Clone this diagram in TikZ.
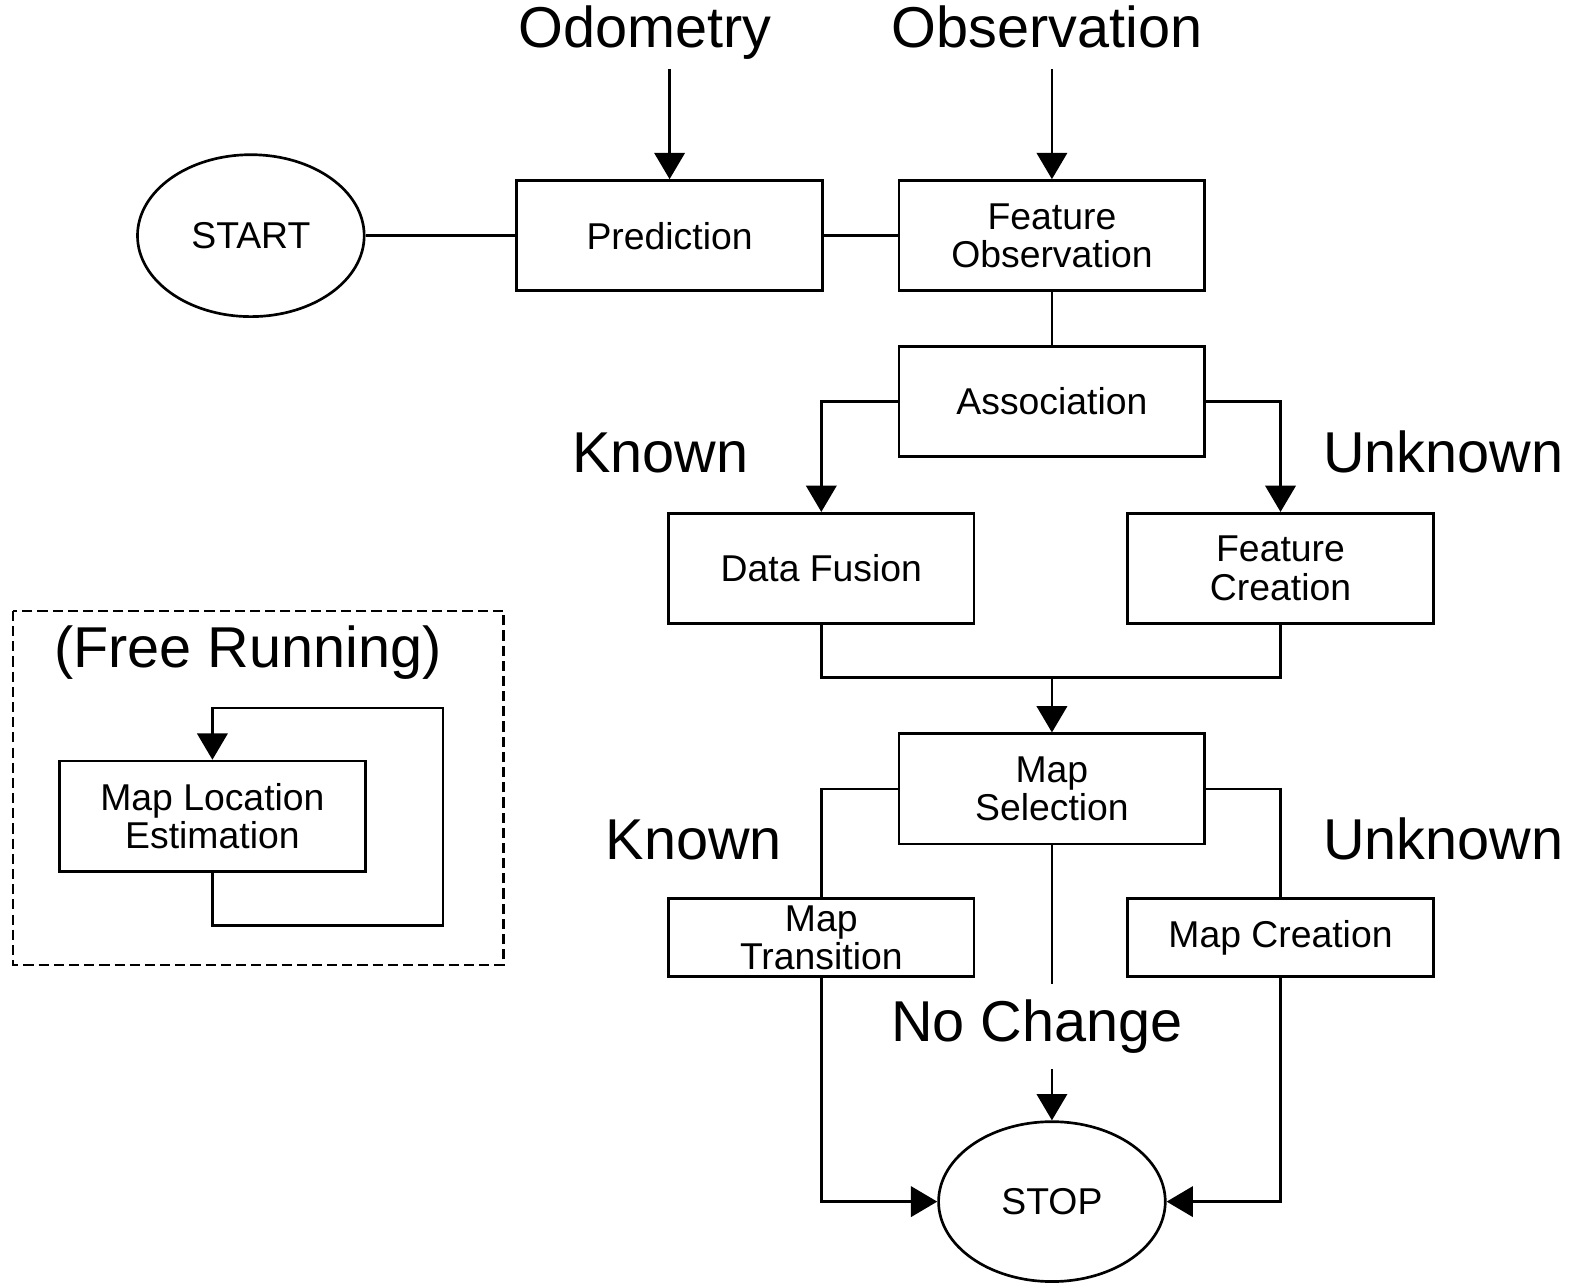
\documentclass[tikz,border=0pt]{standalone}
\usepackage{fontspec}
\setmainfont{Liberation Sans}
\usetikzlibrary{arrows.meta,shapes.geometric}

\newcommand{\boxfont}{\fontsize{10.5}{10.8}\selectfont}
\newcommand{\tagfont}{\fontsize{16.2}{18}\selectfont}

\begin{document}
\begin{tikzpicture}[x=0.01cm,y=-0.01cm,line width=0.75pt,
    box/.style={draw,rectangle,minimum width=3.02cm,minimum height=1.09cm,inner sep=1pt,align=center,font=\boxfont},
    terminal/.style={draw,ellipse,minimum width=2.24cm,minimum height=1.6cm,inner sep=0pt,font=\boxfont},
    tag/.style={anchor=base,inner sep=0pt,font=\tagfont},
    arr/.style={-{Triangle[length=0.26cm,width=0.3cm]}}]
  \useasboundingbox (0,0) rectangle (1568,1271);

  % inputs
  \node[tag] (odo) at (638,47) {Odometry};
  \node[tag] (obs) at (1035,47) {Observation};
  \coordinate (odo in) at (662,68);
  \coordinate (obs in) at (1040,68);

  % main chain
  \node[terminal] (start) at (248,233) {START};
  \node[box] (pred) at (662,233) {Prediction};
  \node[box] (featobs) at (1040,233) {Feature\\Observation};
  \node[box] (assoc) at (1040,397) {Association};
  \node[box] (fusion) at (812,562) {Data Fusion};
  \node[box] (create) at (1266,562) {Feature\\Creation};
  \node[box] (mapsel) at (1040,780) {Map\\Selection};
  \node[box,minimum height=0.77cm] (trans) at (812,927) {Map\\Transition};
  \node[box,minimum height=0.77cm] (mapcreate) at (1266,927) {Map Creation};
  \node[terminal,minimum height=1.58cm] (stop) at (1040,1188) {STOP};

  \node[tag] (known a) at (653,467) {Known};
  \node[tag] (unknown a) at (1427,467) {Unknown};
  \node[tag] (known b) at (686,850) {Known};
  \node[tag] (unknown b) at (1427,850) {Unknown};
  \node[tag] (nochange) at (1025,1030) {No Change};

  \draw[arr] (odo in) -- (pred);
  \draw[arr] (obs in) -- (featobs);
  \draw (start) -- (pred);
  \draw (pred) -- (featobs);
  \draw (featobs) -- (assoc);
  \draw[arr] (assoc.west) -| (fusion.north);
  \draw[arr] (assoc.east) -| (create.north);

  \coordinate (merge) at (1040,670);
  \draw (fusion.south) |- (merge) -| (create.south);
  \draw[arr] (merge) -- (mapsel);

  \draw (mapsel.west) -| (trans.north);
  \draw (mapsel.east) -| (mapcreate.north);
  \coordinate (nochg out) at (1040,973);
  \coordinate (nochg in) at (1040,1057);
  \draw (mapsel) -- (nochg out);
  \draw[arr] (nochg in) -- (stop);
  \draw[arr] (trans.south) |- (stop.west);
  \draw[arr] (mapcreate.south) |- (stop.east);

  % free running
  \draw[dash pattern=on 0.1cm off 0.05cm] (13,604) rectangle (498,954);
  \node[tag] (free) at (245,660) {(Free Running)};
  \node[box] (mle) at (210,807) {Map Location\\Estimation};
  \coordinate (loop) at (438,700);
  \draw[arr] (mle.south) -- ++(0,52) -| (loop) -| (mle.north);
\end{tikzpicture}
\end{document}
